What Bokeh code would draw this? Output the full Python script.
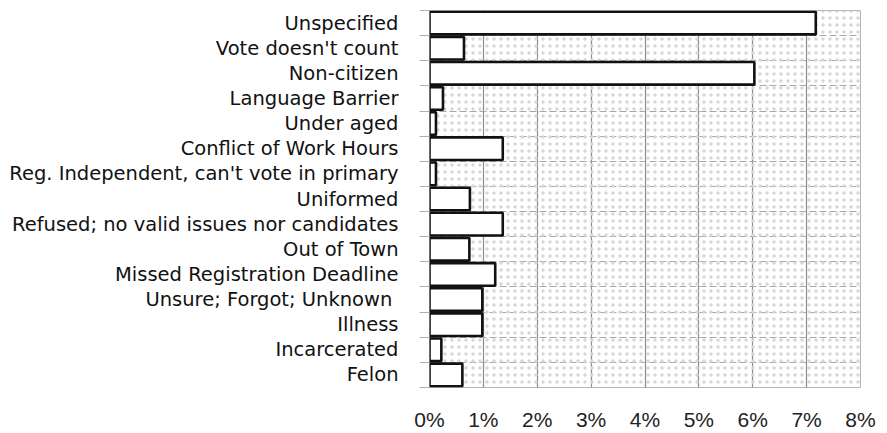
from bokeh.plotting import figure
from bokeh.models import Range1d, FixedTicker, BoxAnnotation, ColumnDataSource
from bokeh.embed import file_html
from bokeh.resources import INLINE

categories = [
    "Unspecified",
    "Vote doesn't count",
    "Non-citizen",
    "Language Barrier",
    "Under aged",
    "Conflict of Work Hours",
    "Reg. Independent, can't vote in primary",
    "Uniformed",
    "Refused; no valid issues nor candidates",
    "Out of Town",
    "Missed Registration Deadline",
    "Unsure; Forgot; Unknown ",
    "Illness",
    "Incarcerated",
    "Felon",
]
values = [7.17, 0.64, 6.03, 0.25, 0.12, 1.36, 0.12, 0.75, 1.36, 0.74, 1.22, 0.98, 0.98, 0.22, 0.61]
tick_values = [0, 1, 2, 3, 4, 5, 6, 7, 8]
tick_labels = ["0%", "1%", "2%", "3%", "4%", "5%", "6%", "7%", "8%"]

n = len(categories)
pos = [i + 0.5 for i in range(n)]
bounds = list(range(n + 1))
src = ColumnDataSource(dict(cat=categories, val=values, pos=pos))

p = figure(width=887, height=433, output_backend="svg", toolbar_location=None,
           x_range=Range1d(tick_values[0], tick_values[-1]), y_range=Range1d(n, 0),
           min_border_left=429, min_border_right=27, min_border_top=10, min_border_bottom=45)
p.background_fill_color = "white"
p.border_fill_color = "white"
p.outline_line_color = "#b4b4b4"
p.outline_line_width = 1

dots = BoxAnnotation(fill_alpha=0, fill_color=None, line_color=None,
                     hatch_pattern="dot", hatch_scale=7, hatch_color="#d6d6d6",
                     hatch_weight=1, level="underlay")
p.add_layout(dots)

p.hbar(y="pos", right="val", left=0, height=0.9, source=src,
       fill_color="white", line_color="#111111", line_width=2.6)

# x axis
p.xaxis.ticker = FixedTicker(ticks=tick_values)
p.xaxis.major_label_overrides = {v: lab for v, lab in zip(tick_values, tick_labels)}
p.xaxis.axis_line_color = None
p.xaxis.major_tick_line_color = None
p.xaxis.minor_tick_line_color = None
p.xaxis.major_tick_out = 0
p.xaxis.major_label_standoff = 20
p.xaxis.major_label_text_font = "Liberation Sans"
p.xaxis.major_label_text_font_size = "21px"
p.xaxis.major_label_text_color = "#222222"

# y axis
p.yaxis.ticker = FixedTicker(ticks=pos, minor_ticks=bounds)
p.yaxis.major_label_overrides = {pos[i]: categories[i] for i in range(n)}
p.yaxis.axis_line_color = None
p.yaxis.major_tick_line_color = None
p.yaxis.major_tick_out = 0
p.yaxis.major_tick_in = 0
p.yaxis.minor_tick_out = 10
p.yaxis.minor_tick_in = 0
p.yaxis.minor_tick_line_color = "#b0b0b0"
p.yaxis.major_label_standoff = 21
p.yaxis.major_label_text_font = "DejaVu Sans"
p.yaxis.major_label_text_font_size = "19.5px"
p.yaxis.major_label_text_color = "#111111"

# grids
p.xgrid.ticker = FixedTicker(ticks=tick_values)
p.xgrid.grid_line_color = "#8c8c8c"
p.xgrid.grid_line_width = 1.2
p.ygrid.ticker = FixedTicker(ticks=bounds)
p.ygrid.grid_line_color = "#a8a8a8"
p.ygrid.grid_line_width = 1
p.ygrid.grid_line_dash = "7 3"

open("out.html", "w").write(file_html(p, INLINE))
